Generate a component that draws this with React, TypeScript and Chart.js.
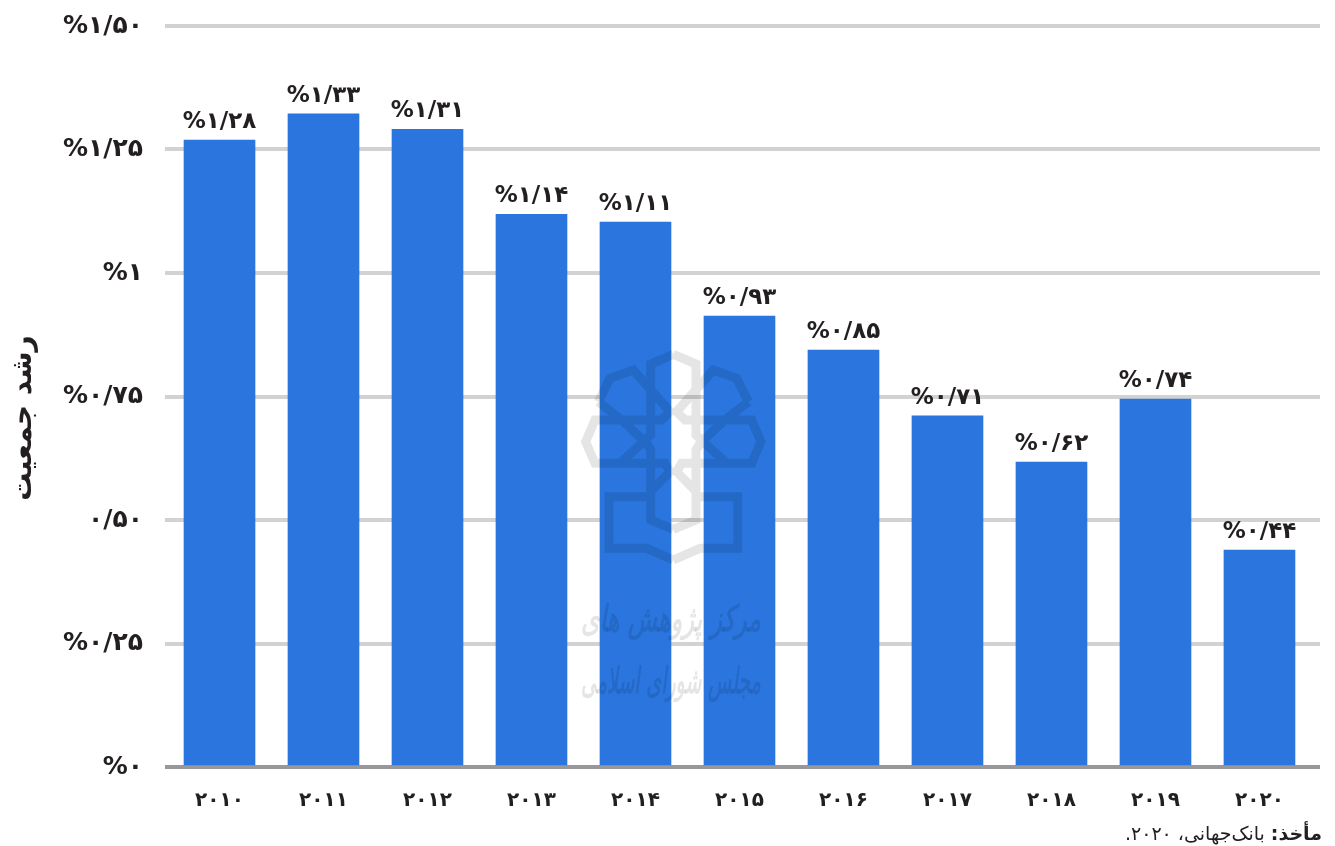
import React, { useEffect, useRef } from "react";
import { Chart, registerables } from "chart.js";

Chart.register(...registerables);

const years = [2010, 2011, 2012, 2013, 2014, 2015, 2016, 2017, 2018, 2019, 2020];
const yearLabels = ["۲۰۱۰", "۲۰۱۱", "۲۰۱۲", "۲۰۱۳", "۲۰۱۴", "۲۰۱۵", "۲۰۱۶", "۲۰۱۷", "۲۰۱۸", "۲۰۱۹", "۲۰۲۰"];
const barValues = [1.269, 1.322, 1.291, 1.119, 1.103, 0.913, 0.844, 0.711, 0.617, 0.745, 0.439];
const barLabels = ["%۱/۲۸", "%۱/۳۳", "%۱/۳۱", "%۱/۱۴", "%۱/۱۱", "%۰/۹۳", "%۰/۸۵", "%۰/۷۱", "%۰/۶۲", "%۰/۷۴", "%۰/۴۴"];
const tickValues = [0, 0.25, 0.5, 0.75, 1, 1.25, 1.5];
const tickLabels = ["%۰", "%۰/۲۵", "۰/۵۰", "%۰/۷۵", "%۱", "%۱/۲۵", "%۱/۵۰"];
const axisTitle = "رشد جمعیت";
const sourceBold = "مأخذ:";
const sourceText = " بانک‌جهانی، ۲۰۲۰.";
const watermarkLines = ["مرکز پژوهش های", "مجلس شورای اسلامی"];

const FONT = '"DejaVu Sans", sans-serif';
const INK = "#231f20";
const BLUE = "#2a75de";
const GRID = "#d2d2d2";
const BASE = "#98989c";

// Decorative emblem outlines (left half, mirrored about its centre), in a 3x local grid
const emblem: number[][][] = [
  [[400, 43], [332, 72], [332, 285], [240, 370]],
  [[175, 185], [245, 240], [320, 310], [332, 330], [332, 540], [400, 568]],
  [[175, 185], [210, 115], [280, 90], [390, 215], [365, 240], [165, 240], [137, 305], [165, 370], [375, 370], [390, 395], [332, 455]],
  [[332, 470], [207, 470], [207, 625], [320, 625], [400, 660]],
];

const labelPlugin = {
  id: "barLabels",
  afterDatasetsDraw(chart: any) {
    const { ctx } = chart;
    const meta = chart.getDatasetMeta(0);
    ctx.save();
    ctx.font = `bold 23px ${FONT}`;
    ctx.fillStyle = INK;
    ctx.textAlign = "center";
    ctx.textBaseline = "middle";
    ctx.direction = "ltr";
    meta.data.forEach((bar: any, i: number) => {
      ctx.fillText(barLabels[i], bar.x, bar.y - 18);
    });
    ctx.restore();
  },
};

const watermarkPlugin = {
  id: "watermark",
  afterDraw(chart: any) {
    const { ctx } = chart;
    const ox = 540;
    const oy = 340;
    ctx.save();
    ctx.strokeStyle = "rgba(0,0,0,0.1)";
    ctx.lineWidth = 9;
    ctx.lineJoin = "miter";
    ctx.beginPath();
    emblem.forEach((line) => {
      [1, -1].forEach((side) => {
        line.forEach(([x, y], i) => {
          const px = ox + (400 + side * (x - 400)) / 3;
          const py = oy + y / 3;
          if (i === 0) ctx.moveTo(px, py);
          else ctx.lineTo(px, py);
        });
      });
    });
    ctx.stroke();
    ctx.fillStyle = "rgba(0,0,0,0.1)";
    ctx.textAlign = "center";
    ctx.textBaseline = "middle";
    ctx.direction = "rtl";
    ctx.font = `italic bold 36px ${FONT}`;
    ctx.fillText(watermarkLines[0], 671, 622, 180);
    ctx.fillText(watermarkLines[1], 671, 684, 180);
    ctx.restore();
  },
};

export default function App() {
  const ref = useRef<HTMLCanvasElement>(null);
  useEffect(() => {
    if (!ref.current) return;
    const chart = new Chart(ref.current, {
      type: "bar",
      data: {
        datasets: [
          {
            data: years.map((x, i) => ({ x, y: barValues[i] })),
            backgroundColor: BLUE,
            barThickness: 71,
            borderWidth: 0,
          },
        ],
      },
      plugins: [labelPlugin, watermarkPlugin],
      options: {
        animation: false,
        responsive: false,
        layout: { padding: { top: 0, left: 7, right: 15, bottom: 10 } },
        plugins: {
          legend: { display: false },
          tooltip: { enabled: false },
          title: {
            display: true,
            text: axisTitle,
            position: "left",
            color: INK,
            padding: 0,
            font: { family: FONT, size: 28, weight: "bold", lineHeight: 1.2 },
          },
        },
        scales: {
          x: {
            type: "linear",
            offset: false,
            min: 2009.476,
            max: 2020.582,
            afterBuildTicks: (s: any) => {
              s.ticks = years.map((value) => ({ value }));
            },
            afterFit: (s: any) => {
              s.height = 69;
              s.paddingLeft = 0;
              s.paddingRight = 0;
            },
            grid: { display: false },
            border: { display: false },
            ticks: {
              padding: 14,
              maxRotation: 0,
              autoSkip: false,
              color: INK,
              font: { family: FONT, size: 20, weight: "bold" },
              callback: (v: any) => yearLabels[years.indexOf(v)] ?? "",
            },
          },
          y: {
            min: 0,
            max: 1.5,
            afterBuildTicks: (s: any) => {
              s.ticks = tickValues.map((value) => ({ value }));
            },
            afterFit: (s: any) => {
              s.width = 165 - 7 - 33.6;
              s.paddingTop = 26;
              s.paddingBottom = 0;
            },
            grid: {
              drawTicks: false,
              lineWidth: 4,
              color: (c: any) => (c.tick && c.tick.value === 0 ? BASE : GRID),
            },
            border: { display: false },
            ticks: {
              padding: 22,
              color: INK,
              font: { family: FONT, size: 25, weight: "bold" },
              callback: (v: any) => tickLabels[tickValues.indexOf(v)] ?? "",
            },
          },
        },
      },
    } as any);
    return () => chart.destroy();
  }, []);
  return (
    <div style={{ position: "absolute", left: 0, top: 0, width: 1335, height: 846, overflow: "hidden", background: "#fff" }}>
      <canvas ref={ref} width={1335} height={846} style={{ display: "block" }} />
      <div
        dir="rtl"
        style={{
          position: "absolute",
          right: 13,
          top: 821,
          fontFamily: FONT,
          fontSize: 19,
          lineHeight: "24px",
          color: INK,
          whiteSpace: "nowrap",
        }}
      >
        <b>{sourceBold}</b>
        {sourceText}
      </div>
    </div>
  );
}
